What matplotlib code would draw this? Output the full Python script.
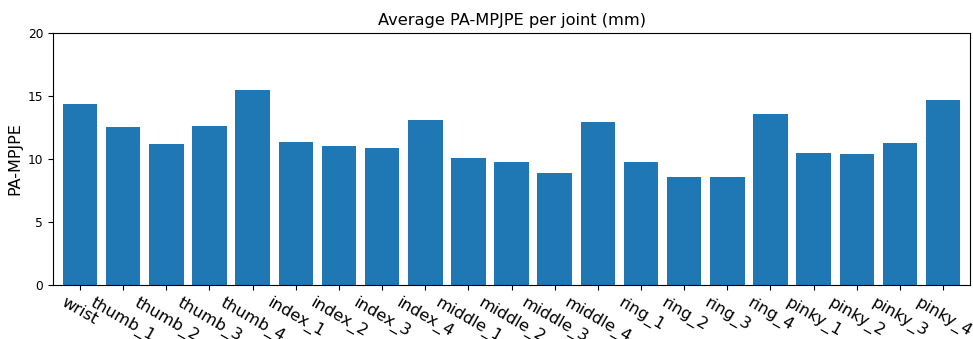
import numpy as np
import matplotlib
matplotlib.use("Agg")
import matplotlib.pyplot as plt

joints = ["wrist", "thumb_1", "thumb_2", "thumb_3", "thumb_4",
          "index_1", "index_2", "index_3", "index_4",
          "middle_1", "middle_2", "middle_3", "middle_4",
          "ring_1", "ring_2", "ring_3", "ring_4",
          "pinky_1", "pinky_2", "pinky_3", "pinky_4"]
pa_mpjpe = [14.33, 12.56, 11.16, 12.61, 15.51,
            11.35, 11.00, 10.90, 13.06,
            10.11, 9.74, 8.92, 12.90,
            9.74, 8.60, 8.55, 13.59,
            10.47, 10.37, 11.24, 14.64]
yticks = [0, 5, 10, 15, 20]

fig = plt.figure(figsize=(9.73, 3.39), dpi=100)
ax = fig.add_axes([0.0545, 0.159, 0.9425, 0.744])

x = np.arange(len(joints))
ax.bar(x, pa_mpjpe, width=0.8, color="#1f77b4")
ax.set_xlim(-0.625, len(joints) - 0.375)
ax.set_ylim(0, 20)
ax.set_yticks(yticks)
ax.set_xticks(x)
ax.set_xticklabels(joints, rotation=-30, fontsize=11.7)
ax.tick_params(axis="y", labelsize=8.8)
ax.set_ylabel("PA-MPJPE", fontsize=11.5)
ax.set_title("Average PA-MPJPE per joint (mm)", fontsize=11.7)

fig.savefig("out.png", dpi=100)
